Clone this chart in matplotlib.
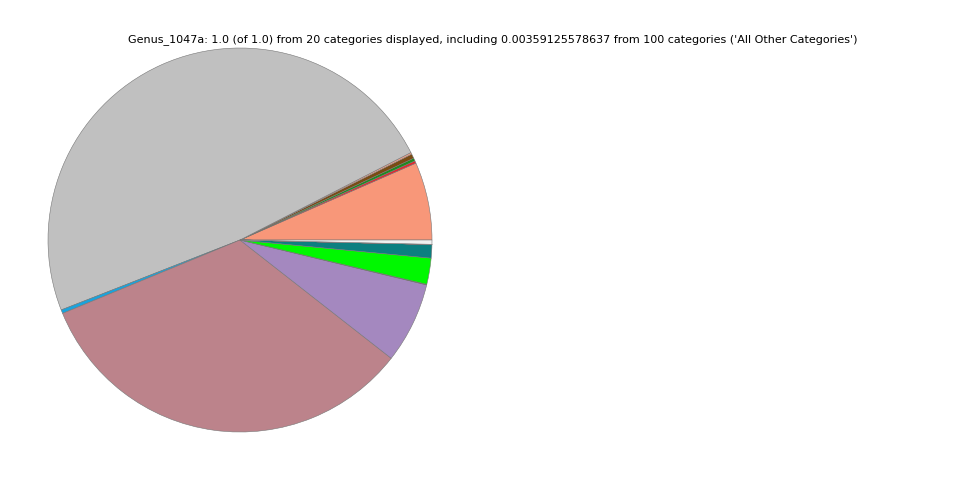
import matplotlib
matplotlib.use("Agg")
import matplotlib.pyplot as plt

categories = ["Salmon", "Red", "Green", "Brown", "Pink", "Gray", "Blue", "Mauve",
              "Purple", "DarkBrown", "Lime", "Teal",
              "t1", "t2", "t3", "t4", "t5", "t6", "t7",
              "All Other Categories"]
values = [0.0656, 0.0020, 0.0025, 0.0037, 0.0015, 0.4841, 0.0031, 0.3319,
          0.0681, 0.0005, 0.0220, 0.0114,
          0.00001, 0.00001, 0.00001, 0.00001, 0.00001, 0.00001, 0.00001,
          0.00359125578637]
colors = ["#f89779", "#e8242b", "#1f8a1f", "#7a4b12", "#f2a38a", "#c0c0c0", "#1aa3dc", "#bc838b",
          "#a488bf", "#6b4a2a", "#00f800", "#0c7f80",
          "#8c564b", "#d62728", "#9467bd", "#2ca02c", "#ff7f0e", "#17becf", "#bcbd22",
          "#f0f0f0"]
title = "Genus_1047a: 1.0 (of 1.0) from 20 categories displayed, including 0.00359125578637 from 100 categories ('All Other Categories')"

fig = plt.figure(figsize=(9.6, 4.8), dpi=100)
ax = fig.add_axes([48 / 960, 48 / 480, 384 / 960, 384 / 480])
ax.pie(values, colors=colors, startangle=0, counterclock=True, normalize=True,
       wedgeprops=dict(edgecolor="#777777", linewidth=0.4))
ax.set_xlim(-1, 1)
ax.set_ylim(-1, 1)
ax.set_aspect("equal")
fig.text(493 / 960, 1 - 40 / 480, title, ha="center", va="center", fontsize=8)
fig.savefig("out.png", dpi=100)
